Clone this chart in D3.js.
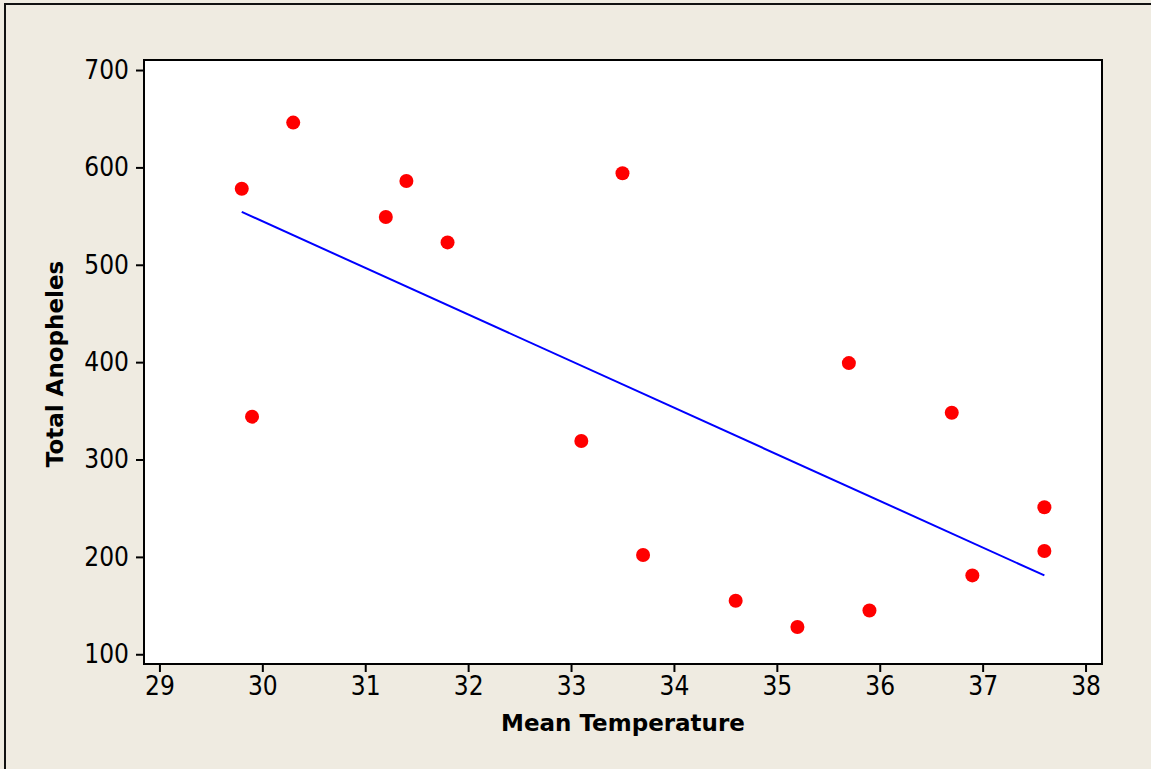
<!DOCTYPE html>
<html lang="en">
<head>
  <meta charset="UTF-8">
  <title>Total Anopheles vs Mean Temperature</title>
  <style>
    html, body { margin: 0; padding: 0; background: #efebe1; }
    svg { display: block; }
    .tick text { font-family: "DejaVu Sans Condensed", "DejaVu Sans", sans-serif; font-stretch: condensed; }
    .title { font-family: "DejaVu Sans", sans-serif; font-weight: bold; }
  </style>
  <script src="https://cdn.jsdelivr.net/npm/d3@7"></script>
</head>
<body>
  <script>
    const width = 1151
    const height = 769

    // data
    const temperature = [29.8, 29.9, 30.3, 31.2, 31.4, 31.8, 33.1, 33.5, 33.7, 34.6, 35.2, 35.7, 35.9, 36.7, 36.9, 37.6, 37.6]
    const anopheles = [578, 344, 646, 549, 586, 523, 319, 594, 202, 155, 128, 399, 145, 348, 181, 251, 206]
    const xTicks = [29, 30, 31, 32, 33, 34, 35, 36, 37, 38]
    const yTicks = [100, 200, 300, 400, 500, 600, 700]

    const margin = { left: 144, right: 49, top: 60, bottom: 105 }

    const svg = d3.select('body').append('svg')
      .attr('width', width)
      .attr('height', height)

    // outer frame
    svg.append('rect')
      .attr('x', 5).attr('y', 4)
      .attr('width', width + 20).attr('height', height + 20)
      .attr('fill', '#efebe1')
      .attr('stroke', '#111')
      .attr('stroke-width', 2)

    const xScale = d3.scaleLinear()
      .domain([28.85, 38.16])
      .range([margin.left, width - margin.right])

    const yScale = d3.scaleLinear()
      .domain([90, 710.3])
      .range([height - margin.bottom, margin.top])

    // plot area
    svg.append('rect')
      .attr('x', margin.left)
      .attr('y', margin.top)
      .attr('width', width - margin.left - margin.right)
      .attr('height', height - margin.top - margin.bottom)
      .attr('fill', '#fff')
      .attr('stroke', '#000')
      .attr('stroke-width', 2)

    const xAxis = d3.axisBottom(xScale).tickValues(xTicks).tickSize(8).tickPadding(5).tickSizeOuter(0)
    const gx = svg.append('g')
      .attr('transform', `translate(0, ${height - margin.bottom})`)
      .call(xAxis)
    gx.select('.domain').remove()
    gx.selectAll('.tick line').attr('stroke', '#000').attr('stroke-width', 2)
    gx.selectAll('.tick text').attr('font-size', 26).attr('fill', '#000')

    const yAxis = d3.axisLeft(yScale).tickValues(yTicks).tickSize(8).tickPadding(7).tickSizeOuter(0)
    const gy = svg.append('g')
      .attr('transform', `translate(${margin.left}, 0)`)
      .call(yAxis)
    gy.select('.domain').remove()
    gy.selectAll('.tick line').attr('stroke', '#000').attr('stroke-width', 2)
    gy.selectAll('.tick text').attr('font-size', 26).attr('fill', '#000')

    // least squares fit line
    const mx = d3.mean(temperature)
    const my = d3.mean(anopheles)
    const sxy = d3.sum(temperature, (t, i) => (t - mx) * (anopheles[i] - my))
    const sxx = d3.sum(temperature, t => (t - mx) ** 2)
    const slope = sxy / sxx
    const intercept = my - slope * mx
    const [xMin, xMax] = d3.extent(temperature)

    svg.append('line')
      .attr('x1', xScale(xMin))
      .attr('y1', yScale(intercept + slope * xMin))
      .attr('x2', xScale(xMax))
      .attr('y2', yScale(intercept + slope * xMax))
      .attr('stroke', '#0000ff')
      .attr('stroke-width', 2)

    svg.selectAll('.dot')
      .data(temperature)
      .enter()
      .append('circle')
      .attr('class', 'dot')
      .attr('cx', d => xScale(d))
      .attr('cy', (d, i) => yScale(anopheles[i]))
      .attr('r', 7)
      .attr('fill', '#ff0000')

    // axis titles
    svg.append('text')
      .attr('class', 'title')
      .attr('x', (margin.left + width - margin.right) / 2)
      .attr('y', 731)
      .attr('text-anchor', 'middle')
      .attr('font-size', 23)
      .text('Mean Temperature')

    svg.append('text')
      .attr('class', 'title')
      .attr('transform', `translate(63, 364) rotate(-90)`)
      .attr('text-anchor', 'middle')
      .attr('font-size', 23)
      .text('Total Anopheles')
  </script>
</body>
</html>
